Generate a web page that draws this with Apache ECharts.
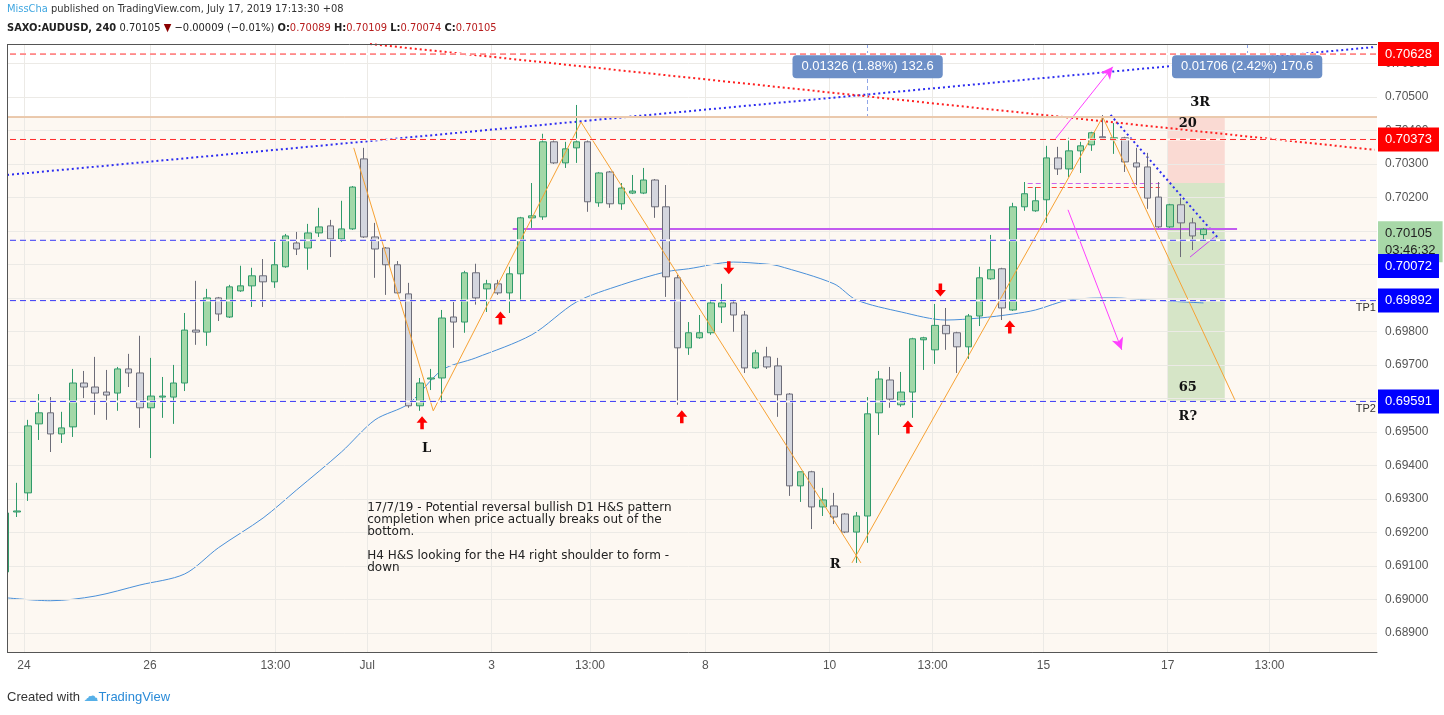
<html>
<head>
  <script src="https://cdn.jsdelivr.net/npm/echarts@6/dist/echarts.min.js"></script>
  <style>body{margin:0;background:#fff;} #main{width:1444px;height:715px;}</style>
</head>
<body>
  <div id="main"></div>
  <script>
    // 4h candles, [open, high, low, close]
    var candles = [
      [.69082,.69258,.69082,.69258],[.69261,.69348,.69246,.69264],[.69318,.69536,.69294,.69518],[.69524,.69613,.69476,.69557],
      [.69557,.69604,.69440,.69494],[.69494,.69560,.69467,.69512],[.69515,.69688,.69485,.69646],[.69646,.69682,.69601,.69634],
      [.69634,.69724,.69551,.69616],[.69619,.69685,.69536,.69610],[.69616,.69694,.69563,.69688],[.69688,.69733,.69634,.69676],
      [.69676,.69787,.69512,.69572],[.69572,.69721,.69422,.69607],[.69604,.69664,.69542,.69607],[.69604,.69700,.69524,.69646],
      [.69646,.69855,.69622,.69804],[.69804,.69951,.69760,.69798],[.69798,.69927,.69757,.69900],[.69900,.69903,.69831,.69852],
      [.69843,.69939,.69840,.69933],[.69921,.69996,.69918,.69936],[.69936,.69990,.69873,.69966],[.69966,.70016,.69873,.69948],
      [.69948,.70067,.69930,.69999],[.69993,.70091,.69990,.70085],[.70064,.70097,.70028,.70046],[.70049,.70121,.69984,.70094],
      [.70094,.70169,.70082,.70112],[.70115,.70133,.70022,.70076],[.70076,.70190,.70067,.70106],[.70106,.70234,.70103,.70231],
      [.70315,.70348,.70079,.70082],[.70082,.70124,.69960,.70046],[.70049,.70052,.69909,.69999],[.69999,.70010,.69912,.69915],
      [.69912,.69945,.69572,.69578],[.69578,.69661,.69563,.69646],[.69658,.69688,.69625,.69661],[.69661,.69864,.69587,.69840],
      [.69843,.69888,.69751,.69828],[.69828,.69981,.69796,.69975],[.69975,.70002,.69880,.69900],[.69927,.69954,.69858,.69942],
      [.69942,.69954,.69909,.69915],[.69915,.69993,.69855,.69972],[.69972,.70142,.69894,.70139],[.70139,.70243,.70109,.70145],
      [.70142,.70390,.70133,.70366],[.70366,.70372,.70300,.70303],[.70303,.70366,.70288,.70345],[.70348,.70476,.70303,.70366],
      [.70366,.70372,.70157,.70187],[.70184,.70276,.70172,.70273],[.70276,.70279,.70169,.70181],[.70181,.70243,.70163,.70228],
      [.70213,.70267,.70210,.70219],[.70213,.70288,.70210,.70252],[.70252,.70255,.70139,.70172],[.70172,.70237,.69903,.69963],
      [.69960,.69969,.69581,.69751],[.69751,.69828,.69730,.69796],[.69781,.69849,.69778,.69796],[.69796,.69894,.69790,.69885],
      [.69873,.69942,.69825,.69885],[.69885,.69894,.69799,.69849],[.69849,.69861,.69676,.69691],[.69691,.69745,.69688,.69736],
      [.69724,.69754,.69688,.69694],[.69697,.69721,.69545,.69611],[.69613,.69616,.69309,.69339],[.69339,.69381,.69291,.69381],
      [.69381,.69384,.69210,.69276],[.69276,.69333,.69249,.69297],[.69279,.69318,.69225,.69246],[.69255,.69258,.69198,.69201],
      [.69201,.69261,.69109,.69249],[.69249,.69604,.69169,.69554],[.69557,.69682,.69491,.69658],[.69655,.69694,.69572,.69598],
      [.69581,.69679,.69575,.69619],[.69619,.69781,.69542,.69778],[.69775,.69784,.69685,.69781],[.69745,.69882,.69703,.69818],
      [.69818,.69870,.69745,.69793],[.69796,.69799,.69676,.69754],[.69754,.69852,.69718,.69846],[.69846,.69993,.69816,.69960],
      [.69957,.70088,.69954,.69984],[.69987,.69990,.69834,.69870],[.69864,.70184,.69861,.70172],[.70172,.70246,.70160,.70211],
      [.70160,.70231,.70157,.70190],[.70193,.70354,.70124,.70318],[.70318,.70351,.70267,.70285],[.70285,.70378,.70261,.70339],
      [.70339,.70366,.70273,.70354],[.70357,.70396,.70339,.70393],[.70381,.70446,.70378,.70378],[.70372,.70422,.70330,.70378],
      [.70378,.70381,.70276,.70306],[.70303,.70348,.70237,.70291],[.70291,.70333,.70166,.70198],[.70201,.70246,.70109,.70112],
      [.70112,.70181,.70109,.70178],[.70178,.70199,.70022,.70124],[.70124,.70139,.70043,.70085],[.70089,.70109,.70074,.70105]
    ];
    var slotCount = 123;

    // moving average, [candle index, price]
    var maLine = [[0,.69005],[4,.68996],[8,.69010],[12,.69043],[16,.69076],[19,.69154],[23,.69243],[26,.69327],[30,.69440],
      [33,.69536],[36,.69584],[39,.69685],[42,.69721],[47,.69790],[51,.69888],[55,.69939],[59,.69978],[61,.69987],[65,.70007],
      [68,.70001],[69,.69996],[74,.69942],[76,.69894],[80,.69858],[84,.69834],[87,.69840],[90,.69852],[92,.69864],[95,.69894],
      [99,.69900],[102,.69894],[107,.69885]];

    var xTickPos = [1.64, 12.9, 24.1, 32.3, 43.4, 52.2, 62.5, 73.6, 82.8, 92.7, 103.8, 112.9];
    var xTickText = ['24', '26', '13:00', 'Jul', '3', '13:00', '8', '10', '13:00', '15', '17', '13:00'];
    var yTicks = [.689,.690,.691,.692,.693,.694,.695,.696,.697,.698,.699,.700,.701,.702,.703,.704,.705,.706];
    var yMin = 0.68843, yMax = 0.70658;

    // horizontal levels: [price, colour, solid?, background behind it]
    var levels = [[.70628, '#ff2a2a', 0, '#ffffff'], [.70373, '#ff2a2a', 0, '#fdf8f2'], [.70440, '#d89a68', 1, '#fdf8f2'],
      [.70072, '#3a3af5', 0, '#fdf8f2'], [.69892, '#3a3af5', 0, '#fdf8f2'], [.69591, '#3a3af5', 0, '#fdf8f2']];
    // price tags on the axis: [position, text, background, text colour]
    var priceTags = [[.70628, '0.70628', '#ff0000', '#fff'], [.70373, '0.70373', '#ff0000', '#fff'],
      [.70068, '0.70105\n03:46:32', '#a8d8a8', '#222'], [.69995, '0.70072', '#0000ff', '#fff'],
      [.69892, '0.69892', '#0000ff', '#fff'], [.69591, '0.69591', '#0000ff', '#fff']];

    // drawings
    var trendBlue = [[0.13, .70267], [122.3, .70649]];
    var trendRed = [[32.55, .70658], [122.3, .70342]];
    var hsLeft = [[31.1, .70348], [38.2, .69563], [51.4, .70425], [76.4, .69109]];
    var hsRight = [[75.6, .69109], [98.0, .70440], [109.8, .69596]];
    var pinkUp = [[93.7, .70372], [98.9, .70590]];
    var pinkDown = [[94.9, .70163], [99.7, .69745]];
    var pinkSmall = [[105.8, .70022], [108.0, .70082]];
    var blueShort = [[98.7, .70446], [108.3, .70079]];
    var neckline = [[45.3, .70106], [110.0, .70106]];
    var shortRed = [[91.3, .70231], [103.1, .70231]];
    var shortPurple = [[91.3, .70243], [103.1, .70243]];
    var upArrows = [[37.2, .69527], [44.2, .69840], [60.4, .69545], [80.6, .69515], [89.7, .69813]];
    var downArrows = [[64.6, .69990], [83.5, .69924]];
    var riskBox = [103.8, 108.9, .70440, .70243, .69591];
    var measure1 = [77.0, .70590, '0.01326 (1.88%) 132.6'];
    var measure2 = [110.9, .70590, '0.01706 (2.42%) 170.6'];
    var noteText = '17/7/19 - Potential reversal bullish D1 H&S pattern\ncompletion when price actually breaks out of the\nbottom.\n\nH4 H&S looking for the H4 right shoulder to form -\ndown';
    var labelsOnChart = [[106.7, .70482, '3R'], [105.6, .70419, '20'], [105.6, .69631, '65'], [105.6, .69545, 'R?'], [37.6, .69449, 'L'], [74.1, .69103, 'R']];
    var tpLabels = [[121.5, .69892, 'TP1'], [121.5, .69591, 'TP2']];

    var myChart = echarts.init(document.getElementById('main'));
    var FONT = 'Liberation Sans';
    var NARROW = "'DejaVu Sans Condensed', 'Liberation Sans', sans-serif";

    function seg(pts, color, type, width, endSym) {
      return [
        { coord: pts[0], symbol: 'none', lineStyle: { color: color, type: type, width: width } },
        { coord: pts[1], symbol: endSym || 'none', symbolSize: endSym ? [9, 12] : 0 }
      ];
    }

    var gridLines = [];
    xTickPos.forEach(function (v) { gridLines.push({ xAxis: v }); });
    yTicks.forEach(function (v) { gridLines.push({ yAxis: v }); });

    var levelSeries = [];
    levels.forEach(function (l, k) {
      var pts = [[-0.5, l[0]], [slotCount - 0.5, l[0]]];
      levelSeries.push({ name: 'under' + k, type: 'line', xAxisIndex: 1, silent: true, z: 19, showSymbol: false,
        data: pts, itemStyle: { color: l[3] }, lineStyle: { color: l[3], type: 'solid', width: 2 } });
      levelSeries.push({ name: 'level' + k, type: 'line', xAxisIndex: 1, silent: true, z: 20, showSymbol: false,
        data: pts, itemStyle: { color: l[1] }, lineStyle: { color: l[1], type: l[2] ? 'solid' : [6, 4], width: 1, opacity: 1 } });
    });
    var tagPoints = priceTags.map(function (t) {
      return { value: [slotCount - 0.5, t[0]],
        label: { show: true, position: 'right', distance: 1, formatter: t[1], backgroundColor: t[2], color: t[3],
          opacity: 1, padding: [4, 7, 3, 7], fontSize: 13, fontFamily: FONT, lineHeight: 17 } };
    });

    option = {
      animation: false,
      grid: { left: 0, right: 67, top: 44, bottom: 63, show: true, backgroundColor: '#ffffff', borderWidth: 0 },
      xAxis: [{
        type: 'category', data: Array.from({ length: slotCount }, function (_, i) { return i; }),
        boundaryGap: true, show: false
      }, {
        type: 'value', min: -0.5, max: slotCount - 0.5, position: 'bottom',
        axisLine: { show: true, lineStyle: { color: '#555' } },
        axisTick: { show: false },
        splitLine: { show: false },
        axisLabel: {
          customValues: xTickPos, color: '#555', fontSize: 12, fontFamily: FONT, margin: 8,
          formatter: function (v) {
            var k = xTickPos.findIndex(function (p) { return Math.abs(p - v) < 0.01; });
            return k >= 0 ? xTickText[k] : '';
          }
        }
      }],
      yAxis: {
        type: 'value', min: yMin, max: yMax, position: 'right',
        axisLine: { show: true, lineStyle: { color: '#555' } },
        axisTick: { show: true, customValues: yTicks, length: 4, lineStyle: { color: '#555' } },
        splitLine: { show: false },
        axisLabel: { customValues: yTicks, color: '#555', fontSize: 12, fontFamily: FONT, margin: 8,
          formatter: function (v) { return v.toFixed(5); } }
      },
      graphic: [
        { type: 'rect', z: 100, shape: { x: 0, y: 40, width: 7, height: 615 }, style: { fill: '#fff' } },
        { type: 'line', z: 101, shape: { x1: 7.5, y1: 44, x2: 7.5, y2: 652 }, style: { stroke: '#555', lineWidth: 1 } },
        { type: 'line', z: 101, shape: { x1: 7, y1: 44.5, x2: 1377, y2: 44.5 }, style: { stroke: '#555', lineWidth: 1 } },
        { type: 'text', left: 7, top: 4, style: { rich: {
            a: { fill: '#3fa6e0', fontSize: 11, fontFamily: NARROW },
            b: { fill: '#333', fontSize: 11, fontFamily: NARROW } },
          text: '{a|MissCha}{b| published on TradingView.com, July 17, 2019 17:13:30 +08}' } },
        { type: 'text', left: 7, top: 22, style: { rich: {
            k: { fill: '#222', fontSize: 11, fontWeight: 'bold', fontFamily: NARROW },
            n: { fill: '#222', fontSize: 11, fontFamily: NARROW },
            t: { fill: '#8b0000', fontSize: 11, fontFamily: NARROW },
            r: { fill: '#b71c1c', fontSize: 11, fontFamily: NARROW } },
          text: '{k|SAXO:AUDUSD, 240} {n|0.70105} {t|▼}{n| −0.00009 (−0.01%) }{k|O:}{r|0.70089 }{k|H:}{r|0.70109 }{k|L:}{r|0.70074 }{k|C:}{r|0.70105}' } },
        { type: 'text', left: 7, top: 690, style: { rich: {
            a: { fill: '#333', fontSize: 13, fontFamily: FONT },
            c: { fill: '#56b0e8', fontSize: 15, fontFamily: 'DejaVu Sans' },
            b: { fill: '#2a8bd8', fontSize: 13, fontFamily: FONT } },
          text: '{a|Created with }{c|☁}{b|TradingView}' } }
      ],
      series: [
        {
          // background and grid lines
          type: 'line', xAxisIndex: 1, data: [], silent: true, z: 1,
          markArea: { silent: true, data: [[
            { coord: [0, riskBox[2]], itemStyle: { color: '#fdf8f2' } }, { coord: [slotCount - 0.5, yMin] }
          ]] },
          markLine: { silent: true, symbol: 'none', precision: 6, label: { show: false },
            lineStyle: { color: '#eceae6', type: 'solid', width: 1 }, data: gridLines }
        },
        {
          type: 'line', xAxisIndex: 1, data: [], silent: true, z: 2,
          markArea: { silent: true, data: [
            [{ coord: [riskBox[0], riskBox[2]], itemStyle: { color: 'rgba(245,150,140,0.3)' } }, { coord: [riskBox[1], riskBox[3]] }],
            [{ coord: [riskBox[0], riskBox[3]], itemStyle: { color: 'rgba(140,195,120,0.35)' } }, { coord: [riskBox[1], riskBox[4]] }]
          ] }
        },
        {
          name: 'AUDUSD', type: 'candlestick', xAxisIndex: 0, z: 5, barWidth: 7,
          data: candles.map(function (c) { return [c[0], c[3], c[2], c[1]]; }),
          itemStyle: { color: '#a3d8a8', color0: '#d4d6de', borderColor: '#2f9a6a', borderColor0: '#6c6c78', borderWidth: 1 }
        },
        {
          type: 'line', xAxisIndex: 1, data: maLine, showSymbol: false, smooth: 0.3, z: 4,
          lineStyle: { color: '#4a90d9', width: 1 }
        },
        { type: 'line', xAxisIndex: 1, data: hsLeft, showSymbol: false, z: 6, lineStyle: { color: '#f7a234', width: 1 } },
        { type: 'line', xAxisIndex: 1, data: hsRight, showSymbol: false, z: 6, lineStyle: { color: '#f7a234', width: 1 } },
        {
          type: 'line', xAxisIndex: 1, data: [], silent: true, z: 7,
          markLine: { silent: true, symbol: 'none', precision: 6, label: { show: false }, data: [
            seg(trendBlue, '#2d2df0', [2, 3], 2),
            seg(trendRed, '#ff2020', [2, 3], 2),
            seg(blueShort, '#2d2df0', [2, 3], 2),
            seg(neckline, '#c25cf0', 'solid', 2),
            seg(shortRed, '#ff4040', [5, 3], 1),
            seg(shortPurple, '#cc66ee', [5, 3], 1),
            seg(pinkUp, '#ff40ff', 'solid', 1, 'arrow'),
            seg(pinkDown, '#ff40ff', 'solid', 1, 'arrow'),
            seg(pinkSmall, '#cc44ee', 'solid', 1),
            seg([[measure1[0], yMax], [measure1[0], riskBox[2]]], '#8fa6e8', [4, 3], 1),
            seg([[measure2[0], yMax], [measure2[0], .70620]], '#8fa6e8', [4, 3], 1)
          ] }
        },
        {
          type: 'scatter', xAxisIndex: 1, z: 30, symbolSize: 0, silent: true, clip: false,
          itemStyle: { opacity: 1 }, data: tagPoints
        },
        {
          type: 'scatter', xAxisIndex: 1, z: 8, symbol: 'path://M5,0 L10,6 L6.6,6 L6.6,12 L3.4,12 L3.4,6 L0,6 Z',
          symbolSize: [11, 13], itemStyle: { color: '#ff0000', opacity: 1 }, data: upArrows, silent: true
        },
        {
          type: 'scatter', xAxisIndex: 1, z: 8, symbol: 'path://M5,0 L10,6 L6.6,6 L6.6,12 L3.4,12 L3.4,6 L0,6 Z',
          symbolRotate: 180, symbolSize: [11, 13], itemStyle: { color: '#ff0000', opacity: 1 }, data: downArrows, silent: true
        },
        {
          type: 'scatter', xAxisIndex: 1, z: 25, symbolSize: 0, silent: true, itemStyle: { opacity: 1 },
          data: labelsOnChart.map(function (l) {
            return { value: [l[0], l[1]], label: { show: true, position: 'inside', formatter: l[2], color: '#111',
              fontSize: 13, fontWeight: 'bold', fontFamily: 'DejaVu Serif' } };
          }).concat(tpLabels.map(function (l) {
            return { value: [l[0], l[1]], label: { show: true, position: 'bottom', distance: 2, formatter: l[2], color: '#333',
              fontSize: 11, fontFamily: FONT } };
          })).concat([
            { value: [measure1[0], measure1[1]], label: { show: true, position: 'inside', formatter: measure1[2], color: '#fff',
              backgroundColor: '#6c8fc7', borderRadius: 4, padding: [5, 9], fontSize: 13, fontFamily: FONT } },
            { value: [measure2[0], measure2[1]], label: { show: true, position: 'inside', formatter: measure2[2], color: '#fff',
              backgroundColor: '#6c8fc7', borderRadius: 4, padding: [5, 9], fontSize: 13, fontFamily: FONT } },
            { value: [32.3, .69290], label: { show: true, position: 'right', distance: 0, align: 'left', verticalAlign: 'top',
              formatter: noteText, color: '#222', fontSize: 12, lineHeight: 12, fontFamily: 'DejaVu Sans' } }
          ])
        }
      ].concat(levelSeries)
    };

    myChart.setOption(option);
  </script>
</body>
</html>
